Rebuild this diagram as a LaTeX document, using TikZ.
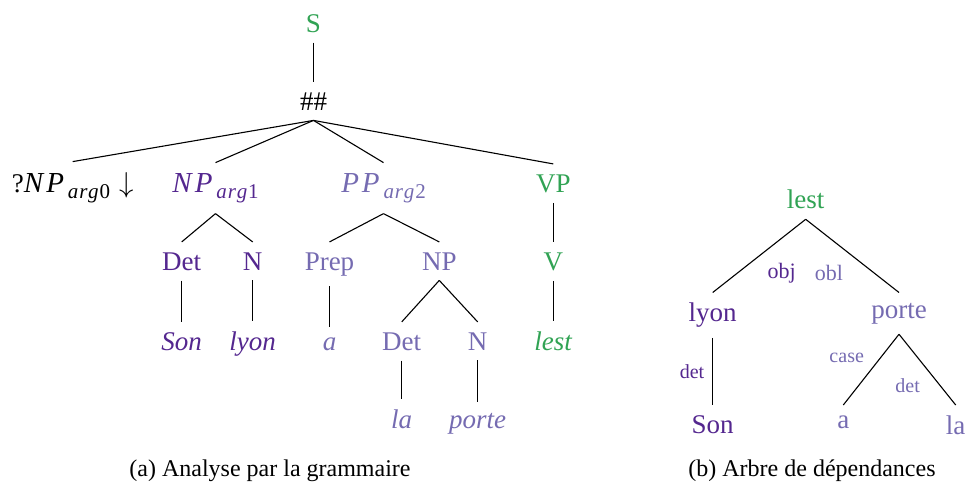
\documentclass[tikz,border=0pt]{standalone}
\usepackage{fontspec}
\setmainfont{Liberation Serif}
\definecolor{vgreen}{HTML}{31A354}
\definecolor{dpurp}{HTML}{54278F}
\definecolor{lpurp}{HTML}{756BB1}
\newcommand{\argsub}[1]{\raisebox{-0.25em}{\fontsize{10.5}{11}\selectfont\textit{a\kern0.4pt r\kern0.4pt g\kern0.4pt}#1}}
\newcommand{\mcat}[2]{{\fontsize{14.5}{16}\selectfont\itshape #1\kern1.5pt #2\kern2pt}}
\begin{document}
\begin{tikzpicture}[x=0.5pt,y=-0.5pt,
  every node/.style={inner sep=5pt},
  lt/.style={anchor=base, font=\fontsize{13.5}{16}\selectfont},
  rt/.style={anchor=north, font=\fontsize{13.5}{16}\selectfont},
  lbl/.style={font=\fontsize{11}{12}\selectfont, inner sep=0pt},
  slbl/.style={font=\fontsize{10}{12}\selectfont, inner sep=0pt},
  capstyle/.style={anchor=base, font=\fontsize{12}{14}\selectfont, inner sep=0pt},
  conn/.style={line width=0.55pt, black}]
\useasboundingbox (0,0) rectangle (965,488);
% left tree
\node[lt, text=vgreen] (S) at (313.5,32) {S};
\node[lt] (hh) at (313.5,110) {\#\#};
\node[lt] (np0) at (72.7,192) {?\mcat{N}{P}\argsub{0}\kern4.5pt$\downarrow$};
\node[lt, text=dpurp] (np1) at (215.5,192) {\mcat{N}{P}\argsub{1}};
\node[lt, text=lpurp] (pp2) at (383.5,192) {\mcat{P}{P}\argsub{2}};
\node[lt, text=vgreen] (vp) at (553.3,192) {VP};
\node[lt, text=dpurp] (det1) at (181.7,270) {Det};
\node[lt, text=dpurp] (n1) at (252.7,270) {N};
\node[lt, text=lpurp] (prep) at (329.5,270) {Prep};
\node[lt, text=lpurp] (np) at (439.3,270) {NP};
\node[lt, text=vgreen] (v) at (553.3,270) {V};
\node[lt, text=dpurp] (son) at (181.7,350) {\textit{Son}};
\node[lt, text=dpurp] (lyon) at (252.7,350) {\textit{lyon}};
\node[lt, text=lpurp] (a) at (329.5,350) {\textit{a}};
\node[lt, text=lpurp] (det2) at (401.7,350) {Det};
\node[lt, text=lpurp] (n2) at (477.7,350) {N};
\node[lt, text=vgreen] (lest) at (553.3,350) {\textit{lest}};
\node[lt, text=lpurp] (la) at (401.7,428) {\textit{la}};
\node[lt, text=lpurp] (porte) at (477.7,428) {\textit{porte}};
\draw[conn] (S.south) -- (hh.north);
\draw[conn] (hh.south) -- (np0.north);
\draw[conn] (hh.south) -- (np1.north);
\draw[conn] (hh.south) -- (pp2.north);
\draw[conn] (hh.south) -- (vp.north);
\draw[conn] (np1.south) -- (det1.north);
\draw[conn] (np1.south) -- (n1.north);
\draw[conn] (pp2.south) -- (prep.north);
\draw[conn] (pp2.south) -- (np.north);
\draw[conn] (vp.south) -- (v.north);
\draw[conn] (det1.south) -- (son.north);
\draw[conn] (n1.south) -- (lyon.north);
\draw[conn] (prep.south) -- (a.north);
\draw[conn] (np.south) -- (det2.north);
\draw[conn] (np.south) -- (n2.north);
\draw[conn] (v.south) -- (lest.north);
\draw[conn] (det2.south) -- (la.north);
\draw[conn] (n2.south) -- (porte.north);
% right tree
\node[rt, text=vgreen] (rlest) at (805.7,179.5) {lest};
\node[rt, text=dpurp] (rlyon) at (712.7,292.5) {lyon};
\node[rt, text=lpurp] (rporte) at (899,292.5) {porte};
\node[rt, text=dpurp] (rson) at (712.7,405) {Son};
\node[rt, text=lpurp] (ra) at (843.3,405) {a};
\node[rt, text=lpurp] (rla) at (955.7,405) {la};
\draw[conn] (rlest.south) -- (rlyon.north);
\draw[conn] (rlest.south) -- (rporte.north);
\draw[conn] (rlyon.south) -- (rson.north);
\draw[conn] (rporte.south) -- (ra.north);
\draw[conn] (rporte.south) -- (rla.north);
\node[lbl, text=dpurp] (lobj) at (781.7,273) {obj};
\node[lbl, text=lpurp] (lobl) at (829,273) {obl};
\node[slbl, text=dpurp] (ldet1) at (692,371.7) {det};
\node[slbl, text=lpurp] (lcase) at (846.7,357.7) {case};
\node[slbl, text=lpurp] (ldet2) at (907.7,385.7) {det};
% captions
\node[capstyle] (capa) at (270,476) {(a) Analyse par la grammaire};
\node[capstyle] (capb) at (812,476) {(b) Arbre de dépendances};
\end{tikzpicture}
\end{document}
